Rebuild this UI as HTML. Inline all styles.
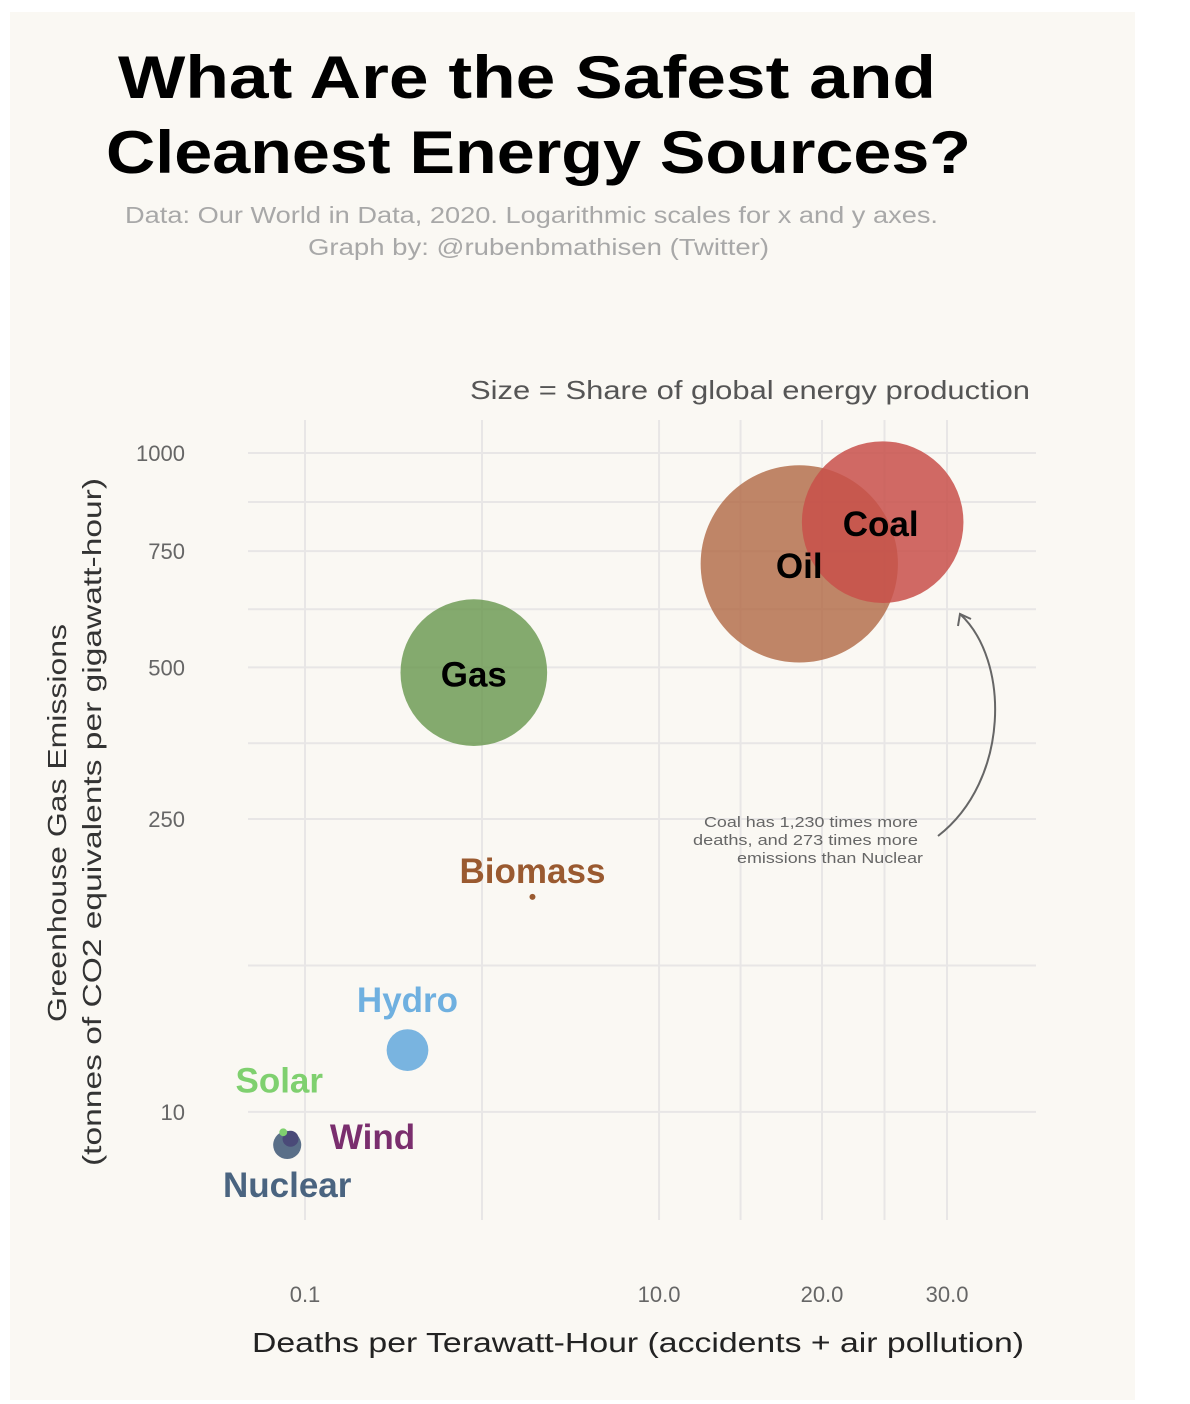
<!DOCTYPE html>
<html><head><meta charset="utf-8"><style>
html,body{margin:0;padding:0;background:#fff;}
svg{display:block;font-family:"Liberation Sans",sans-serif;}
</style></head><body>
<svg id="chart" width="1190" height="1404" viewBox="0 0 1190 1404">
<rect x="10" y="12" width="1125" height="1388" fill="#faf8f3"/>
<text x="118" y="98" font-size="60" font-weight="bold" fill="#000" textLength="818" lengthAdjust="spacingAndGlyphs">What Are the Safest and</text>
<text x="106" y="173" font-size="60" font-weight="bold" fill="#000" textLength="865" lengthAdjust="spacingAndGlyphs">Cleanest Energy Sources?</text>
<text x="125" y="223" font-size="23" fill="#a8a8a8" textLength="813" lengthAdjust="spacingAndGlyphs">Data: Our World in Data, 2020. Logarithmic scales for x and y axes.</text>
<text x="308" y="255" font-size="23" fill="#a8a8a8" textLength="461" lengthAdjust="spacingAndGlyphs">Graph by: @rubenbmathisen (Twitter)</text>
<text x="470" y="399" font-size="26" fill="#555" textLength="560" lengthAdjust="spacingAndGlyphs">Size = Share of global energy production</text>
<g id="grid"></g>
<g id="yticks"></g>
<g id="xticks"></g>
<g id="bubbles"></g>
<g id="labels"></g>
<text transform="translate(66,823) rotate(-90)" text-anchor="middle" font-size="26" fill="#333" textLength="398" lengthAdjust="spacingAndGlyphs">Greenhouse Gas Emissions</text>
<text transform="translate(101,822) rotate(-90)" text-anchor="middle" font-size="26" fill="#333" textLength="688" lengthAdjust="spacingAndGlyphs">(tonnes of CO2 equivalents per gigawatt-hour)</text>
<text x="252" y="1352" font-size="28" fill="#222" textLength="772" lengthAdjust="spacingAndGlyphs">Deaths per Terawatt-Hour (accidents + air pollution)</text>
<g>
<text x="918" y="827" font-size="15" fill="#666" text-anchor="end" textLength="214" lengthAdjust="spacingAndGlyphs">Coal has 1,230 times more</text>
<text x="918" y="845" font-size="15" fill="#666" text-anchor="end" textLength="225" lengthAdjust="spacingAndGlyphs">deaths, and 273 times more</text>
<text x="923" y="863" font-size="15" fill="#666" text-anchor="end" textLength="186" lengthAdjust="spacingAndGlyphs">emissions than Nuclear</text>
<path d="M938,836 C1010,780 1010,660 960,614" fill="none" stroke="#666" stroke-width="2"/>
<path d="M958,626 L960,614 L971,619" fill="none" stroke="#666" stroke-width="2"/>
</g>
</svg>
<script>
const sources = ["Oil","Coal","Gas","Biomass","Hydro","Nuclear","Wind","Solar"];
const deaths = [18.4, 24.6, 2.8, 4.6, 1.3, 0.03, 0.04, 0.02];
const emissions = [720, 820, 490, 155, 34, 3, 4, 5.2];
const shares = [38, 25.5, 21, 0.035, 1.7, 0.77, 0.25, 0.06];
const colors = ["rgba(176,104,68,0.8)","rgba(200,80,74,0.85)","rgba(102,150,76,0.8)","#9a5a30","#79b4e0","#5a6f88","#4a4a78","#7fd06f"];
const xTicks = [0.1, 10, 20, 30];
const xTickLabels = ["0.1","10.0","20.0","30.0"];
const yTicks = [10, 250, 500, 750, 1000];
const yTickLabels = ["10","250","500","750","1000"];

const NS = "http://www.w3.org/2000/svg";
function xs(v){ return 305 + 124.4*(Math.sqrt(v) - Math.sqrt(0.1)); }
function ys(v){ return 453 + 23.15*(Math.sqrt(1000) - Math.sqrt(v)); }
function rs(s){ return 16*Math.sqrt(s); }
function mk(tag, attrs, parent){ const e=document.createElementNS(NS,tag); for(const k in attrs) e.setAttribute(k,attrs[k]); parent.appendChild(e); return e; }

const grid=document.getElementById('grid');
const xg=xTicks.map(xs), yg=yTicks.map(ys);
const xAll=[]; xg.forEach((p,i)=>{ xAll.push(p); if(i<xg.length-1) xAll.push((p+xg[i+1])/2); });
const yAll=[]; yg.forEach((p,i)=>{ yAll.push(p); if(i<yg.length-1) yAll.push((p+yg[i+1])/2); });
xAll.forEach(p=>{
  const l=mk('line',{x1:p,x2:p,y1:420,y2:1220,stroke:'#e8e6e6','stroke-width':2},grid);
  
  
});
yAll.forEach(p=>{
  const l=mk('line',{x1:248,x2:1036,y1:p,y2:p,stroke:'#e8e6e6','stroke-width':2},grid);
  
  
});
const yt=document.getElementById('yticks');
yTicks.forEach((v,i)=>{
  const t=mk('text',{x:185,y:ys(v)+8,'text-anchor':'end','font-size':22,fill:'#666'},yt);
  t.textContent=yTickLabels[i];
  
  
});
const xt=document.getElementById('xticks');
xTicks.forEach((v,i)=>{
  const t=mk('text',{x:xs(v),y:1302,'text-anchor':'middle','font-size':22,fill:'#666'},xt);
  t.textContent=xTickLabels[i];
  
  
});
const bg=document.getElementById('bubbles');
sources.forEach((s,i)=>{
  const c=mk('circle',{cx:xs(deaths[i]),cy:ys(emissions[i]),r:Math.max(3,rs(shares[i])),fill:colors[i]},bg);
  
  
});
const labelColors=["#000","#000","#000","#9a5a30","#6fb0e0","#4a6480","#7a2e6e","#7fd06f"];
const labelDx=[0,-2,0,0,0,0,82,-4];
const labelDy=[14,14,14,-14,-38,52,10,-40];
const lg=document.getElementById('labels');
sources.forEach((s,i)=>{
  const t=mk('text',{x:xs(deaths[i])+labelDx[i],y:ys(emissions[i])+labelDy[i],'text-anchor':'middle','font-size':35,'font-weight':'bold',fill:labelColors[i]},lg);
  t.textContent=s;
  
  
});
</script>
</body></html>
